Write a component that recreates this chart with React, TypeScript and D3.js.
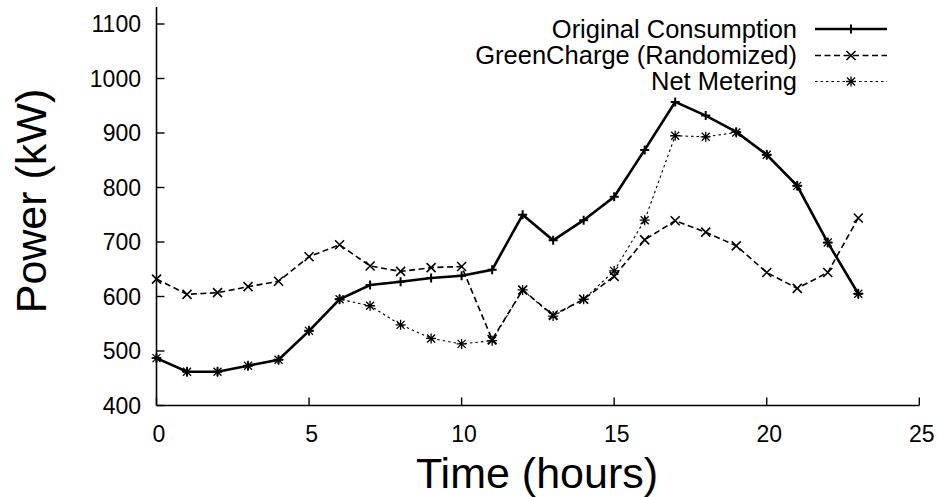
import React from "react";
import * as d3 from "d3";

const hours = [0,1,2,3,4,5,6,7,8,9,10,11,12,13,14,15,16,17,18,19,20,21,22,23];
const original = [487,462,462,473,484,537,595,621,627,634,638,649,750,703,740,783,869,957,932,902,860,803,699,605];
const greenCharge = [632,604,607,618,628,673,695,656,646,653,655,521,612,566,595,637,704,739,718,693,644,615,644,744];
const netMetering = [487,462,462,473,484,537,595,583,548,523,513,519,612,564,595,647,740,895,893,901,860,803,699,605];
const xTicks = [0,5,10,15,20,25];
const yTicks = [400,500,600,700,800,900,1000,1100];
const seriesNames = ["Original Consumption","GreenCharge (Randomized)","Net Metering"];

const W = 938, H = 497;
const FONT = "'Liberation Sans', Arial, Helvetica, sans-serif";

const x = d3.scaleLinear().domain([0, 25]).range([156.5, 919.3]);
const y = d3.scaleLinear().domain([400, 1100]).range([405.5, 24]);

const plusPath = (s: number) => `M${-s},0H${s}M0,${-s}V${s}`;
const crossPath = (s: number) => `M${-s},${-s}L${s},${s}M${-s},${s}L${s},${-s}`;
const starPath = (s: number) => plusPath(s) + crossPath(s * 0.8);

const series = [
  { name: seriesNames[0], values: original, width: 2.6, dash: "none", marker: plusPath(4.5), mw: 2 },
  { name: seriesNames[1], values: greenCharge, width: 1.6, dash: "6,3.5", marker: crossPath(4.5), mw: 1.6 },
  { name: seriesNames[2], values: netMetering, width: 1.1, dash: "2.5,3", marker: starPath(5), mw: 1.3 },
];

export default function App() {
  const line = d3.line<number>().x((_, i) => x(hours[i])).y((v) => y(v));
  const legendRows = [29, 55.5, 81.5];
  return (
    <svg width={W} height={H} style={{ position: "absolute", left: 0, top: 0, background: "#fff" }} fontFamily={FONT}>
      <rect width={W} height={H} fill="#fff" />
      <line x1={x(0)} x2={x(0)} y1={y(400)} y2={7} stroke="#000" strokeWidth={1.6} />
      <line x1={x(0)} x2={x(25)} y1={y(400)} y2={y(400)} stroke="#000" strokeWidth={1.6} />
      {yTicks.map((t) => (
        <g key={"y" + t}>
          <line x1={x(0)} x2={x(0) + 8} y1={y(t)} y2={y(t)} stroke="#000" strokeWidth={1.4} />
          <text x={141} y={y(t)} dy="0.36em" textAnchor="end" fontSize={23} fill="#000">{t}</text>
        </g>
      ))}
      {xTicks.map((t) => (
        <g key={"x" + t}>
          <line x1={x(t)} x2={x(t)} y1={y(400)} y2={y(400) - 8} stroke="#000" strokeWidth={1.4} />
          <text x={x(t) + 2.5} y={441.5} textAnchor="middle" fontSize={23} fill="#000">{t}</text>
        </g>
      ))}
      <text x={537} y={487.5} textAnchor="middle" fontSize={43} fill="#000">Time (hours)</text>
      <text transform={`translate(46,201) rotate(-90)`} textAnchor="middle" fontSize={43} fill="#000">Power (kW)</text>
      {series.map((s, k) => (
        <g key={"s" + k}>
          <path d={line(s.values) || ""} fill="none" stroke="#000" strokeWidth={s.width} strokeDasharray={s.dash} strokeLinejoin="miter" />
          {s.values.map((v, i) => (
            <path key={i} d={s.marker} transform={`translate(${x(hours[i])},${y(v)})`} stroke="#000" strokeWidth={s.mw} fill="none" />
          ))}
        </g>
      ))}
      {series.map((s, k) => (
        <g key={"l" + k}>
          <text x={797} y={legendRows[k]} dy="0.35em" textAnchor="end" fontSize={25.5} fill="#000">{s.name}</text>
          <line x1={815} x2={887} y1={legendRows[k]} y2={legendRows[k]} stroke="#000" strokeWidth={s.width} strokeDasharray={s.dash} />
          <path d={s.marker} transform={`translate(851,${legendRows[k]})`} stroke="#000" strokeWidth={s.mw} fill="none" />
        </g>
      ))}
    </svg>
  );
}
